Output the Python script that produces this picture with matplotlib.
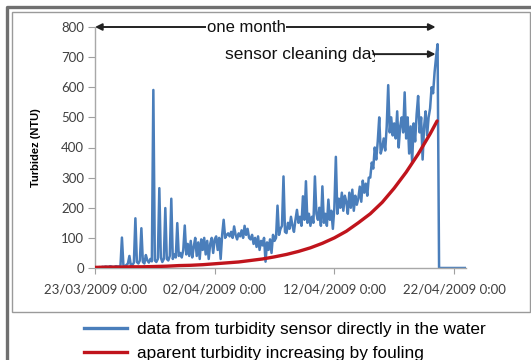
import matplotlib.pyplot as plt
import pandas as pd
from matplotlib.lines import Line2D
from matplotlib.transforms import Bbox

plt.rcParams["font.family"] = ["Liberation Sans", "DejaVu Sans"]

# turbidity readings every 3 hours from 23/03/2009 0:00, one row per day
turbidity = [
    0, 2, 1, 3, 2, 4, 3, 5,
    4, 3, 6, 5, 3, 4, 6, 5,
    5, 4, 101, 8, 6, 10, 15, 40,
    8, 10, 18, 165, 20, 15, 25, 132,
    20, 15, 43, 25, 18, 30, 22, 591,
    25, 20, 30, 265, 35, 20, 30, 199,
    30, 25, 40, 230, 30, 45, 35, 149,
    40, 50, 35, 60, 141, 45, 80, 40,
    90, 35, 70, 100, 40, 85, 30, 95,
    60, 100, 45, 90, 30, 80, 100, 50,
    95, 105, 60, 100, 30, 110, 160, 100,
    110, 115, 105, 120, 100, 138, 110, 95,
    115, 105, 125, 100, 140, 110, 130, 100,
    95, 110, 80, 100, 70, 105, 60, 90,
    75, 100, 21, 85, 60, 95, 50, 110,
    90, 100, 207, 110, 130, 140, 304, 120,
    116, 150, 130, 170, 140, 120, 160, 193,
    150, 170, 140, 238, 160, 288, 150, 180,
    140, 170, 150, 304, 180, 160, 200, 140,
    271, 150, 180, 140, 227, 160, 190, 130,
    200, 369, 180, 230, 200, 250, 190, 240,
    220, 180, 250, 200, 260, 190, 240, 210,
    230, 270, 220, 290, 250, 280, 240, 300,
    300, 350, 330, 400, 360, 420, 500, 380,
    400, 430, 390, 470, 607, 450, 500, 440,
    480, 430, 520, 400, 470, 500, 450, 583,
    430, 500, 380, 470, 350, 480, 420, 510,
    571, 450, 500, 360, 470, 520, 440, 500,
    530, 600, 580, 650, 700, 743, 0, 0,
    0, 0, 0, 0, 0, 0, 0, 0,
    0, 0, 0, 0, 0, 0, 0, 0,
    0,
]

# apparent turbidity from fouling, daily plus the cleaning moment
fouling_dates = list(pd.date_range("2009-03-23", "2009-04-20", freq="D")) + [pd.Timestamp("2009-04-20 14:00")]
fouling = [2, 3, 3, 4, 4, 5, 6, 8, 9, 11, 14, 17, 20, 25, 30, 37, 45, 55, 67, 82,
           100, 122, 150, 180, 218, 265, 318, 378, 445, 488]

tick_dates = ["2009-03-23", "2009-04-02", "2009-04-12", "2009-04-22"]
tick_labels = ["23/03/2009 0:00", "02/04/2009 0:00", "12/04/2009 0:00", "22/04/2009 0:00"]
yticks = [0, 100, 200, 300, 400, 500, 600, 700, 800]

series_labels = ["data from turbidity sensor directly in the water",
                 "aparent turbidity increasing by fouling"]

blue = "#4a7ebb"
red = "#c0141c"

times = pd.date_range("2009-03-23", periods=len(turbidity), freq="3h")

fig = plt.figure(figsize=(5.31, 3.6), dpi=100)
ax = fig.add_axes([95 / 531, 1 - 268 / 360, (466 - 95) / 531, (268 - 27) / 360])

ax.plot(times, turbidity, color=blue, lw=1.8, zorder=2)
ax.plot(fouling_dates, fouling, color=red, lw=2.4, zorder=3, solid_capstyle="round")

ax.set_xlim(times[0], times[-1])
ax.set_ylim(0, 800)
ax.set_yticks(yticks)
ax.set_yticklabels([str(v) for v in yticks], family="Lato", fontsize=9.5, color="#404040")
ax.set_xticks(pd.to_datetime(tick_dates))
ax.set_xticklabels(tick_labels, family="Lato", fontsize=9.5, color="#404040")
ax.tick_params(axis="y", length=5, color="#a0a0a0", pad=3)
ax.tick_params(axis="x", length=4, color="#a0a0a0", pad=7)
for s in ["top", "right"]:
    ax.spines[s].set_visible(False)
for s in ["left", "bottom"]:
    ax.spines[s].set_color("#a8a8a8")
    ax.spines[s].set_linewidth(1.0)

ax.set_ylabel("Turbidez (NTU)", fontsize=8, fontweight="bold")
ax.yaxis.set_label_coords(-(95 - 41) / 371, 0.5)

# "one month" double arrow
start = times[0]
arrow_end = pd.Timestamp("2009-04-20 11:00")
ax.annotate("", xy=(start, 800), xytext=(arrow_end, 800), annotation_clip=False,
            arrowprops=dict(arrowstyle="<|-|>", color="#222222", lw=1.4,
                            mutation_scale=10, shrinkA=0, shrinkB=0))
ax.text(pd.Timestamp("2009-04-04 15:00"), 800, "one month", fontsize=12, ha="center", va="center",
        color="#111111", bbox=dict(facecolor="white", edgecolor="none", pad=0.5), zorder=5)

# "sensor cleaning day" arrow, text clipped where the arrow starts
clean_start = pd.Timestamp("2009-04-15 06:00")
ax.annotate("", xy=(arrow_end, 710), xytext=(clean_start, 710), annotation_clip=False,
            arrowprops=dict(arrowstyle="-|>", color="#222222", lw=1.4,
                            mutation_scale=10, shrinkA=0, shrinkB=0))
t = ax.text(pd.Timestamp("2009-04-02 21:00"), 710, "sensor cleaning day", fontsize=12.5,
            ha="left", va="center", color="#111111", zorder=5)
t.set_clip_box(Bbox.from_extents(0, 0, 375, 360))
t.set_clip_on(True)

# chart frame and outer frame
fig.patches.append(plt.Rectangle((12 / 531, 1 - 312 / 360), (530 - 12) / 531, 300 / 360,
                                 transform=fig.transFigure, fill=False, edgecolor="#9a9a9a", lw=1.0))
fig.lines.append(Line2D([7 / 531, 7 / 531, 1.0], [0, 1 - 7 / 360, 1 - 7 / 360],
                        transform=fig.transFigure, color="#707070", lw=2.4))

handles = [Line2D([], [], color=blue, lw=2.4), Line2D([], [], color=red, lw=2.4)]
fig.legend(handles, series_labels, loc="upper left", bbox_to_anchor=(84 / 531, 1 - 322 / 360),
           frameon=False, fontsize=12.4, handlelength=2.5, handletextpad=0.6,
           labelspacing=0.5, borderpad=0, borderaxespad=0)

fig.savefig("out.png", dpi=100)
